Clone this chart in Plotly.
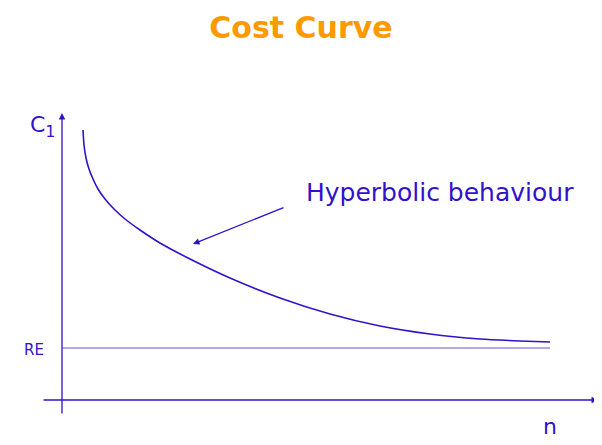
import plotly.graph_objects as go

# curve (n, C1) in picture units
n_vals = [83, 84, 86, 89, 93, 98, 105, 114, 125, 140, 160, 190, 230, 280, 330, 380, 430, 480, 520, 550]
c1_vals = [130, 145, 158, 169, 179, 189, 199, 209, 219, 230, 243, 259, 278, 298, 314, 326, 334, 339, 341, 342]
re_level = 348
re_span = [62, 550]

blue = "#3311CC"
font = "DejaVu Sans"

fig = go.Figure()
fig.add_trace(go.Scatter(x=n_vals, y=c1_vals, mode="lines",
                         line=dict(color=blue, width=1.6, shape="spline", smoothing=0.6),
                         hoverinfo="skip"))
fig.add_trace(go.Scatter(x=re_span, y=[re_level, re_level], mode="lines",
                         line=dict(color="#6655DD", width=1), hoverinfo="skip"))

# axes with arrow heads
fig.add_annotation(x=62, y=113, ax=62, ay=415, xref="x", yref="y", axref="x", ayref="y",
                   showarrow=True, arrowhead=2, arrowsize=1, arrowwidth=1.3, arrowcolor=blue, text="")
fig.add_annotation(x=598, y=400, ax=42, ay=400, xref="x", yref="y", axref="x", ayref="y",
                   showarrow=True, arrowhead=2, arrowsize=1, arrowwidth=1.3, arrowcolor=blue, text="")
# pointer to the curve
fig.add_annotation(x=193, y=244, ax=285, ay=207, xref="x", yref="y", axref="x", ayref="y",
                   showarrow=True, arrowhead=2, arrowsize=1, arrowwidth=1.3, arrowcolor=blue, text="")

fig.add_annotation(x=440, y=192, text="Hyperbolic behaviour", showarrow=False,
                   font=dict(family=font, size=25, color=blue))
fig.add_annotation(x=42, y=126, text="C<sub>1</sub>", showarrow=False,
                   font=dict(family=font, size=22, color=blue))
fig.add_annotation(x=34, y=350, text="RE", showarrow=False,
                   font=dict(family=font, size=15, color=blue))
fig.add_annotation(x=550, y=426, text="n", showarrow=False,
                   font=dict(family=font, size=22, color=blue))

# page body has an 8px margin, so the figure is 586x429 and ranges are offset
fig.update_layout(
    width=586, height=429,
    margin=dict(l=0, r=0, t=0, b=0),
    paper_bgcolor="white", plot_bgcolor="white",
    showlegend=False,
    title=dict(text="<b>Cost Curve</b>", x=0.5, xanchor="center", y=0.955, yanchor="middle",
               font=dict(family=font, size=30, color="#FF9900")),
    xaxis=dict(range=[8, 594], visible=False),
    yaxis=dict(range=[437, 8], visible=False),
)

fig.write_html("out.html")
